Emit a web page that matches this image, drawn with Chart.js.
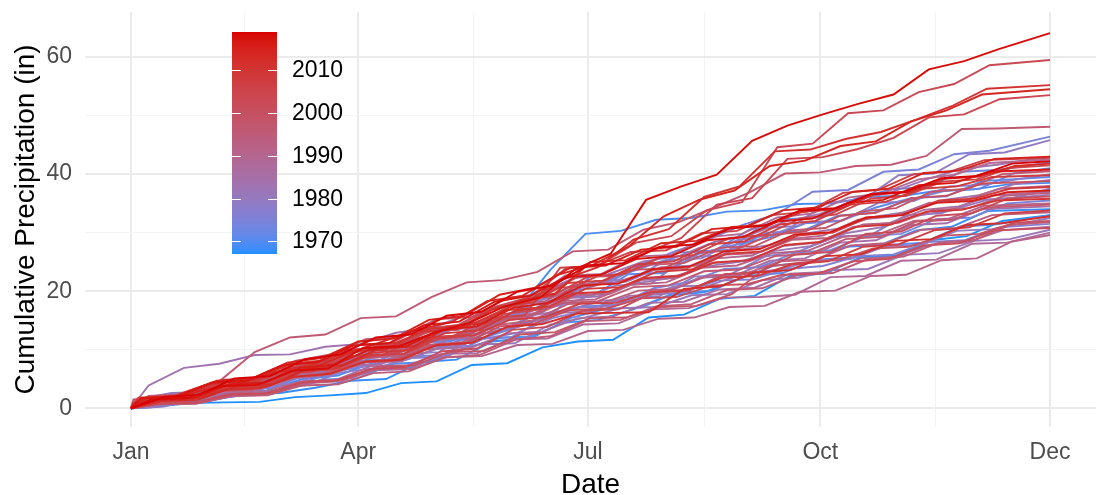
<!DOCTYPE html>
<html>
<head>
<meta charset="utf-8">
<script src="https://cdn.jsdelivr.net/npm/chart.js@4.4.1/dist/chart.umd.min.js"></script>
<style>
  html, body { margin: 0; padding: 0; background: #ffffff; }
  #wrap { width: 1102px; height: 495px; }
</style>
</head>
<body>
<div id="wrap"><canvas id="chart" width="1102" height="495"></canvas></div>
<script>
// day of year for each reading (every two weeks, Jan 1 .. Dec 31)
var dias = [0,14,28,42,56,70,84,98,112,126,140,154,168,182,196,210,224,238,252,266,280,294,308,322,336,350,364];
// days by which each year's readings come earlier (so rain jumps don't all line up)
var desloc = [5,11,2,8,13,0,7,3,10,6,1,12,4,9,2,11,7,0,13,5,8,3,10,6,1,12,4,9,2,7,11,5,0,13,8,3,10,6,1,12,4,9,2,7,11,5,0,13,8,3,10,6,1];

// cumulative precipitation (in) per year
var p1967 = [0,0.2,0.9,1.0,1.1,1.9,2.2,2.6,4.3,4.6,7.4,7.7,10.4,11.4,11.7,15.5,16.0,18.7,19.2,22.6,23.0,25.8,26.1,28.7,29.4,32.0,33.0];
var p1968 = [0,0.1,1.1,1.3,2.4,2.6,3.5,4.7,5.0,7.9,8.3,11.4,12.0,14.6,15.1,16.9,19.3,19.8,22.1,24.4,24.9,27.6,27.9,30.4,31.0,33.7,34.0];
var p1969 = [0,1.0,1.2,2.9,3.1,5.0,5.6,7.8,8.4,10.6,12.8,16.0,23.6,29.8,30.3,32.2,32.5,33.6,33.8,34.9,35.0,36.1,36.3,37.2,37.4,38.3,38.5];
var p1970 = [0,0.9,1.0,2.3,2.5,3.4,4.9,5.2,7.6,7.9,10.2,12.0,12.3,15.4,17.0,17.2,19.8,20.1,22.6,23.1,25.4,25.8,27.9,28.3,31.0,31.4,33.0];
var p1971 = [0,0.5,2.0,2.2,3.9,4.1,6.6,8.0,8.3,11.2,11.5,14.6,16.0,18.9,19.2,22.9,23.1,26.4,27.9,29.2,31.6,32.0,34.3,35.9,36.2,38.8,39.5];
var p1972 = [0,1.3,1.5,3.2,3.5,5.8,6.8,9.0,9.3,11.6,12.1,14.0,16.5,22.6,23.0,25.1,26.8,27.1,30.0,30.3,32.9,33.4,35.6,37.1,37.5,40.2,41.0];
var p1973 = [0,1.6,1.9,3.5,5.1,5.4,8.0,9.8,10.1,12.6,14.5,14.9,18.2,21.0,21.4,24.8,26.6,26.9,30.5,32.3,32.6,35.8,37.4,37.8,40.4,40.7,42.0];
var p1974 = [0,1.2,1.4,2.3,4.0,4.2,6.3,7.3,8.8,9.1,11.9,12.2,15.6,17.4,17.7,20.5,21.6,23.8,24.1,26.6,27.0,29.4,29.8,32.3,32.6,35.0,35.5];
var p1975 = [0,1.1,1.3,3.1,3.4,5.5,6.2,8.3,9.3,11.6,12.0,15.2,16.7,19.5,21.2,23.8,26.6,28.7,31.3,33.2,37.0,37.3,40.4,40.8,43.4,44.0,46.4];
var p1976 = [0,1.4,1.6,3.2,3.4,5.3,5.6,7.9,8.6,10.5,10.7,13.7,15.3,17.2,17.4,19.5,19.7,21.8,22.0,23.8,24.3,26.0,26.3,28.4,28.7,30.9,31.5];
var p1977 = [0,0.3,1.8,2.0,3.7,3.9,6.1,6.9,8.6,8.8,11.8,12.9,15.4,16.8,18.9,19.1,22.5,22.8,25.9,26.9,29.3,29.6,33.0,33.3,35.6,35.9,37.5];
var p1978 = [0,1.5,2.6,2.8,4.6,4.8,7.2,8.2,10.3,10.6,13.7,14.0,17.7,19.4,21.7,22.0,25.3,25.6,28.7,29.7,31.8,32.1,35.1,35.4,37.9,38.2,40.0];
var p1979 = [0,0.2,1.7,1.9,3.8,4.2,7.0,7.2,9.3,9.6,13.4,13.7,16.9,18.6,21.0,21.3,25.8,26.1,30.7,31.1,35.2,35.6,39.8,40.1,43.4,43.7,45.8];
var p1980 = [0,1.1,1.3,3.4,3.6,5.9,6.8,8.3,10.1,10.4,12.7,12.9,15.9,16.8,18.4,18.6,20.8,21.0,23.0,23.7,25.3,25.5,27.7,27.9,30.3,30.6,32.5];
var p1981 = [0,0.6,0.8,2.1,2.3,4.2,4.8,6.5,6.7,9.2,10.9,11.1,14.3,15.5,17.1,17.3,19.3,19.5,21.9,22.3,23.6,23.8,26.2,26.5,28.6,28.9,30.5];
var p1982 = [0,1.3,1.5,3.3,3.5,5.6,6.5,8.6,8.9,11.5,12.5,14.9,16.3,18.8,19.1,21.3,22.2,24.2,25.0,26.9,27.7,29.9,30.9,32.9,33.8,35.6,36.5];
var p1983 = [0,3.9,6.9,7.6,9.1,9.2,10.5,11.0,12.9,13.7,16.0,17.3,19.5,22.2,22.9,25.1,26.0,28.4,29.6,31.9,33.2,35.6,36.9,39.1,40.9,41.6,43.0];
var p1984 = [0,1.7,1.9,4.2,4.4,6.9,8.1,10.4,10.6,13.5,13.8,17.1,18.6,21.3,21.6,24.1,24.4,26.9,27.8,29.8,30.7,32.7,33.6,35.6,36.4,38.3,39.0];
var p1985 = [0,0.9,1.1,2.7,2.9,4.8,5.4,7.3,7.5,10.0,10.3,12.9,14.1,16.3,16.6,19.2,19.5,22.3,22.6,25.2,25.6,28.3,28.7,31.3,31.6,34.0,34.5];
var p1986 = [0,1.2,1.4,3.0,3.2,5.1,5.8,7.8,8.0,10.2,10.4,12.8,13.1,15.4,15.7,18.0,18.2,20.3,20.6,23.0,23.3,25.6,25.9,28.0,28.3,30.4,31.0];
var p1987 = [0,1.4,1.6,3.5,3.7,5.6,6.6,8.5,9.0,11.6,12.2,15.2,16.3,19.2,19.5,21.9,22.3,24.8,25.2,27.7,28.3,31.0,31.6,33.9,34.5,36.4,37.0];
var p1988 = [0,1.2,1.3,2.7,2.9,4.6,4.8,7.2,7.3,9.3,9.4,11.8,11.9,14.3,14.5,16.9,17.1,18.9,19.0,19.4,22.4,22.6,25.2,25.4,28.1,28.3,30.0];
var p1989 = [0,1.2,1.4,3.5,3.7,6.3,7.0,9.7,9.9,13.1,13.4,17.2,18.4,22.7,22.9,25.9,26.2,29.2,29.8,32.6,33.3,36.0,36.8,39.1,39.9,41.9,42.5];
var p1990 = [0,1.1,1.3,3.2,3.4,5.5,6.2,8.5,8.9,11.7,12.1,15.2,16.2,19.3,19.6,22.3,22.7,25.6,26.1,28.9,29.5,32.2,32.8,35.1,35.5,37.5,38.0];
var p1991 = [0,0.8,0.9,2.3,2.4,4.3,4.6,6.6,6.7,8.7,8.9,10.8,11.0,13.2,13.4,15.3,15.5,17.3,17.5,19.9,20.1,22.6,22.8,25.3,25.6,28.5,29.6];
var p1992 = [0,1.3,1.5,3.3,3.5,5.7,6.2,8.4,8.8,11.4,11.9,14.7,15.4,18.3,18.6,21.1,21.5,24.0,24.4,26.5,26.9,29.3,29.7,32.0,32.4,34.6,35.0];
var p1993 = [0,1.8,2.6,4.7,4.9,7.3,8.0,10.7,11.1,13.9,14.4,17.4,18.3,21.2,21.4,23.6,23.9,26.2,26.5,28.8,29.1,31.4,31.7,33.9,34.2,36.3,36.8];
var p1994 = [0,1.1,1.2,2.9,3.1,5.2,5.6,7.9,8.3,10.8,11.3,14.2,15.0,17.8,18.0,20.1,20.4,22.7,22.9,25.1,25.4,27.8,28.2,30.5,30.8,33.0,33.5];
var p1995 = [0,0.7,0.8,2.1,2.2,3.9,4.1,6.0,6.3,8.7,9.1,11.7,12.3,14.9,15.1,17.4,17.8,20.2,20.5,22.8,23.1,25.5,25.9,28.3,28.7,31.3,31.8];
var p1996 = [0,2.1,2.4,4.6,9.6,12.1,12.6,15.4,15.7,19.0,21.5,21.9,23.3,26.8,27.1,30.5,31.8,34.3,36.9,40.1,40.3,41.4,41.6,43.1,47.7,47.8,48.1];
var p1997 = [0,1.4,1.6,3.6,3.8,6.0,6.7,8.9,9.3,11.9,12.3,15.0,15.7,18.0,18.3,20.7,21.0,23.4,23.7,26.0,26.4,28.9,29.3,31.9,32.2,34.3,34.8];
var p1998 = [0,1.9,2.2,4.9,5.2,8.1,9.2,11.8,12.1,15.2,15.6,18.8,19.6,22.4,22.6,24.5,24.8,27.4,27.7,30.4,30.8,33.6,34.2,37.0,37.5,40.0,40.5];
var p1999 = [0,1.0,1.1,2.5,2.6,4.6,4.9,7.1,7.3,9.6,9.8,12.6,13.0,15.4,15.5,17.3,17.5,19.5,24.2,24.9,25.3,27.3,27.6,29.5,29.8,31.7,32.0];
var p2000 = [0,1.5,1.7,3.9,4.1,6.8,7.4,10.0,10.3,13.3,13.6,16.9,17.6,20.6,20.9,23.6,23.9,26.6,27.0,29.6,30.2,32.9,33.4,35.9,36.3,38.4,38.8];
var p2001 = [0,1.2,1.3,3.0,3.2,5.3,5.7,7.8,8.1,10.6,11.0,14.0,14.5,16.8,17.0,18.8,19.0,21.0,21.2,22.8,23.0,25.1,25.5,27.8,28.2,30.4,30.8];
var p2002 = [0,0.8,0.9,2.4,2.5,4.4,4.7,6.7,7.0,9.7,10.2,13.4,13.9,16.7,16.9,19.8,20.1,22.9,23.3,26.3,26.7,29.8,30.2,32.9,33.3,35.8,36.2];
var p2003 = [0,1.2,2.0,3.6,4.4,6.0,7.1,9.6,10.3,12.8,14.2,17.3,19.0,23.8,24.6,28.3,29.4,33.8,35.2,44.6,45.2,50.4,50.9,54.0,55.4,58.6,59.5];
var p2004 = [0,1.3,1.5,3.6,3.8,6.3,6.6,8.6,9.5,12.1,12.6,16.1,16.9,20.9,23.5,26.5,29.1,34.8,35.9,42.6,42.9,44.3,46.2,49.7,50.2,52.8,53.5];
var p2005 = [0,1.6,1.8,4.1,4.4,7.2,7.8,10.6,11.0,14.0,14.7,18.2,19.2,22.5,22.9,25.7,26.2,29.1,29.6,32.4,33.1,35.8,36.3,38.7,39.1,41.1,41.5];
var p2006 = [0,1.3,1.4,3.4,3.6,5.9,6.3,8.9,9.2,12.0,12.4,15.4,15.9,24.0,24.3,26.7,27.0,29.9,30.3,33.0,33.6,36.8,37.3,40.0,40.4,42.4,42.8];
var p2007 = [0,1.5,1.8,3.9,4.1,6.2,6.7,8.9,9.3,11.9,12.5,15.1,15.6,17.9,18.0,19.9,20.2,22.3,22.6,24.6,25.1,27.6,28.0,30.4,30.9,33.3,33.8];
var p2008 = [0,1.4,1.6,3.9,4.2,6.8,7.4,10.0,10.5,13.5,14.0,17.3,18.1,21.4,21.8,24.6,25.1,28.0,28.5,31.4,32.0,34.8,35.3,37.5,37.9,39.5,39.8];
var p2009 = [0,1.2,1.4,3.5,3.7,6.3,6.9,9.5,9.9,12.8,13.3,16.6,17.4,20.4,20.7,23.3,23.7,26.4,26.8,29.5,30.0,32.6,33.0,35.5,35.8,37.5,37.8];
var p2010 = [0,1.7,2.0,4.6,4.9,7.6,8.2,10.9,11.2,13.7,14.0,16.7,17.2,19.6,19.9,22.2,22.6,24.9,25.3,27.9,28.4,31.0,31.4,33.6,33.9,35.5,35.8];
var p2011 = [0,1.8,2.1,4.2,4.5,6.3,7.6,9.8,10.0,13.1,13.5,16.8,18.3,22.0,24.1,28.8,30.6,36.1,37.9,43.9,44.2,46.0,47.2,49.3,51.6,54.6,55.2];
var p2012 = [0,1.3,1.4,3.2,3.4,5.4,5.9,8.0,8.3,10.8,11.2,13.9,14.4,16.2,16.3,16.4,20.4,20.8,23.2,23.6,26.0,26.3,28.6,28.9,31.3,31.6,32.8];
var p2013 = [0,1.5,1.7,3.8,4.1,6.8,7.4,10.2,10.6,13.9,14.5,18.4,19.6,25.0,25.3,28.2,28.6,31.0,31.3,33.6,34.0,36.5,36.9,39.2,39.6,41.4,41.8];
var p2014 = [0,0.9,1.6,3.1,4.2,6.2,6.7,9.2,11.3,13.4,14.7,18.3,19.2,22.8,24.5,27.6,32.8,35.6,37.2,41.4,42.3,44.8,45.6,49.0,50.9,53.6,54.5];
var p2015 = [0,1.8,2.1,4.7,5.1,7.8,8.6,11.4,11.9,15.1,15.8,19.4,20.6,24.0,24.4,27.1,27.6,30.6,31.1,33.8,34.3,37.0,37.5,40.2,40.6,42.6,43.0];
var p2016 = [0,1.6,1.8,4.1,4.4,6.9,7.5,10.1,10.6,13.4,14.0,17.1,18.0,21.0,21.3,23.8,24.2,26.8,27.2,29.7,30.1,32.6,33.0,35.1,35.4,36.9,37.2];
var p2017 = [0,1.7,2.0,4.4,4.7,7.3,7.9,10.7,11.1,14.2,14.8,18.2,19.2,22.4,22.8,25.5,26.0,28.7,29.2,31.9,32.4,35.1,35.6,38.1,38.5,40.4,40.8];
var p2018 = [0,1.5,1.7,3.8,4.0,6.4,6.8,10.3,10.6,12.9,14.6,17.4,18.9,23.8,26.4,35.6,37.9,39.9,45.7,48.3,50.2,52.0,53.6,57.9,59.3,61.4,64.1];
var p2019 = [0,1.9,2.3,5.1,5.5,8.4,9.2,12.1,12.6,15.8,16.5,19.9,21.0,24.4,24.8,27.5,28.0,30.7,31.2,33.8,34.2,36.6,37.0,39.3,39.7,41.8,42.2];

var anos = [1967,1968,1969,1970,1971,1972,1973,1974,1975,1976,1977,1978,1979,1980,1981,1982,1983,1984,1985,1986,1987,1988,1989,1990,1991,1992,1993,1994,1995,1996,1997,1998,1999,2000,2001,2002,2003,2004,2005,2006,2007,2008,2009,2010,2011,2012,2013,2014,2015,2016,2017,2018,2019];
var series = [p1967,p1968,p1969,p1970,p1971,p1972,p1973,p1974,p1975,p1976,p1977,p1978,p1979,p1980,p1981,p1982,p1983,p1984,p1985,p1986,p1987,p1988,p1989,p1990,p1991,p1992,p1993,p1994,p1995,p1996,p1997,p1998,p1999,p2000,p2001,p2002,p2003,p2004,p2005,p2006,p2007,p2008,p2009,p2010,p2011,p2012,p2013,p2014,p2015,p2016,p2017,p2018,p2019];

// axis ticks (major + minor), labels only on the major ones
var xTicks = [0,45,90,135.5,181,227,273,318.5,364];
var xLabels = {0:"Jan",90:"Apr",181:"Jul",273:"Oct",364:"Dec"};
var yTicks = [0,10,20,30,40,50,60];
var yLabels = {0:"0",20:"20",40:"40",60:"60"};
var legendTicks = [1970,1980,1990,2000,2010];

var anoMin = 1967, anoMax = 2019;
var corBaixa = "#1E90FF", corAlta = "#D80000";
var fonte = "'Liberation Sans', Arial, sans-serif";

// gradient in Lab space (like ggplot's scale_colour_gradient)
function hexRgb(h) {
  return [parseInt(h.substr(1,2),16), parseInt(h.substr(3,2),16), parseInt(h.substr(5,2),16)];
}
function lin(c) { c = c / 255; return c <= 0.04045 ? c / 12.92 : Math.pow((c + 0.055) / 1.055, 2.4); }
function delin(c) { c = c <= 0.0031308 ? 12.92 * c : 1.055 * Math.pow(c, 1 / 2.4) - 0.055; return Math.max(0, Math.min(255, Math.round(c * 255))); }
function rgbLab(rgb) {
  var r = lin(rgb[0]), g = lin(rgb[1]), b = lin(rgb[2]);
  var X = (r * 0.4124 + g * 0.3576 + b * 0.1805) / 0.95047;
  var Y = (r * 0.2126 + g * 0.7152 + b * 0.0722);
  var Z = (r * 0.0193 + g * 0.1192 + b * 0.9505) / 1.08883;
  function f(t) { return t > 0.008856 ? Math.cbrt(t) : 7.787 * t + 16 / 116; }
  var fx = f(X), fy = f(Y), fz = f(Z);
  return [116 * fy - 16, 500 * (fx - fy), 200 * (fy - fz)];
}
function labRgb(lab) {
  var fy = (lab[0] + 16) / 116, fx = fy + lab[1] / 500, fz = fy - lab[2] / 200;
  function fi(t) { return t > 0.206893 ? t * t * t : (t - 16 / 116) / 7.787; }
  var X = fi(fx) * 0.95047, Y = fi(fy), Z = fi(fz) * 1.08883;
  var r = X * 3.2406 + Y * -1.5372 + Z * -0.4986;
  var g = X * -0.9689 + Y * 1.8758 + Z * 0.0415;
  var b = X * 0.0557 + Y * -0.2040 + Z * 1.0570;
  return "rgb(" + delin(r) + "," + delin(g) + "," + delin(b) + ")";
}
var labBaixa = rgbLab(hexRgb(corBaixa)), labAlta = rgbLab(hexRgb(corAlta));
function corAno(ano) {
  var t = (ano - anoMin) / (anoMax - anoMin);
  t = Math.max(0, Math.min(1, t));
  return labRgb([
    labBaixa[0] + (labAlta[0] - labBaixa[0]) * t,
    labBaixa[1] + (labAlta[1] - labBaixa[1]) * t,
    labBaixa[2] + (labAlta[2] - labBaixa[2]) * t
  ]);
}

// datasets: latest year first so it is painted on top
var datasets = [];
for (var i = anos.length - 1; i >= 0; i--) {
  var pts = [];
  for (var j = 0; j < dias.length; j++) {
    var d = (j === 0 || j === dias.length - 1) ? dias[j] : dias[j] - desloc[i];
    pts.push({ x: d, y: series[i][j] });
  }
  datasets.push({
    label: String(anos[i]),
    data: pts,
    borderColor: corAno(anos[i]),
    borderWidth: 1.9,
    pointRadius: 0,
    tension: 0,
    fill: false
  });
}

// colour bar legend drawn inside the plot
var barraCores = {
  id: "barraCores",
  afterDraw: function (chart) {
    var ctx = chart.ctx;
    var x0 = 232, x1 = 277, yTop = 32, yBot = 254;
    ctx.save();
    for (var py = yTop; py < yBot; py++) {
      var ano = anoMax - (py + 0.5 - yTop) / (yBot - yTop) * (anoMax - anoMin);
      ctx.fillStyle = corAno(ano);
      ctx.fillRect(x0, py, x1 - x0, 1);
    }
    ctx.strokeStyle = "#ffffff";
    ctx.lineWidth = 1;
    ctx.font = "23px " + fonte;
    ctx.fillStyle = "#000000";
    ctx.textAlign = "left";
    ctx.textBaseline = "middle";
    legendTicks.forEach(function (a) {
      var y = Math.round(yBot - (a - anoMin) / (anoMax - anoMin) * (yBot - yTop)) + 0.5;
      ctx.beginPath();
      ctx.moveTo(x0, y); ctx.lineTo(x0 + 9, y);
      ctx.moveTo(x1 - 9, y); ctx.lineTo(x1, y);
      ctx.stroke();
      ctx.fillText(String(a), 292, y);
    });
    ctx.restore();
  }
};

function ehMaior(ctx) {
  var v = ctx.tick ? ctx.tick.value : 0;
  return ctx.scale.axis === "x" ? xLabels[v] !== undefined : yLabels[v] !== undefined;
}
function corGrade(ctx) { return ehMaior(ctx) ? "#EBEBEB" : "#F3F3F3"; }
function larguraGrade(ctx) { return ehMaior(ctx) ? 2 : 1; }

var grafico = new Chart(document.getElementById("chart").getContext("2d"), {
  type: "line",
  data: { datasets: datasets },
  options: {
    responsive: false,
    animation: false,
    events: [],
    layout: { padding: { top: 12, right: 6, left: 0, bottom: 0 } },
    plugins: { legend: { display: false }, tooltip: { enabled: false } },
    scales: {
      x: {
        type: "linear",
        min: -18.2,
        max: 382.2,
        afterBuildTicks: function (scale) { scale.ticks = xTicks.map(function (v) { return { value: v }; }); },
        afterFit: function (scale) { scale.height = 68; scale.paddingLeft = 0; scale.paddingRight = 0; },
        ticks: {
          autoSkip: false,
          maxRotation: 0,
          padding: 12,
          color: "#4D4D4D",
          font: { family: fonte, size: 23 },
          callback: function (v) { return xLabels[v] !== undefined ? xLabels[v] : ""; }
        },
        grid: { color: corGrade, lineWidth: larguraGrade, drawTicks: false },
        border: { display: false },
        title: {
          display: true,
          text: "Date",
          color: "#000000",
          font: { family: fonte, size: 28 },
          padding: { top: 0, bottom: -7 }
        }
      },
      y: {
        type: "linear",
        min: -3.2,
        max: 67.7,
        afterBuildTicks: function (scale) { scale.ticks = yTicks.map(function (v) { return { value: v }; }); },
        afterFit: function (scale) { scale.width = 85; scale.paddingTop = 0; scale.paddingBottom = 0; },
        ticks: {
          padding: 13,
          color: "#4D4D4D",
          font: { family: fonte, size: 23 },
          callback: function (v) { return yLabels[v] !== undefined ? yLabels[v] : ""; }
        },
        grid: { color: corGrade, lineWidth: larguraGrade, drawTicks: false },
        border: { display: false },
        title: {
          display: true,
          text: "Cumulative Precipitation (in)",
          color: "#000000",
          font: { family: fonte, size: 28 },
          padding: { top: 9, bottom: 0 }
        }
      }
    }
  },
  plugins: [barraCores]
});
</script>
</body>
</html>
